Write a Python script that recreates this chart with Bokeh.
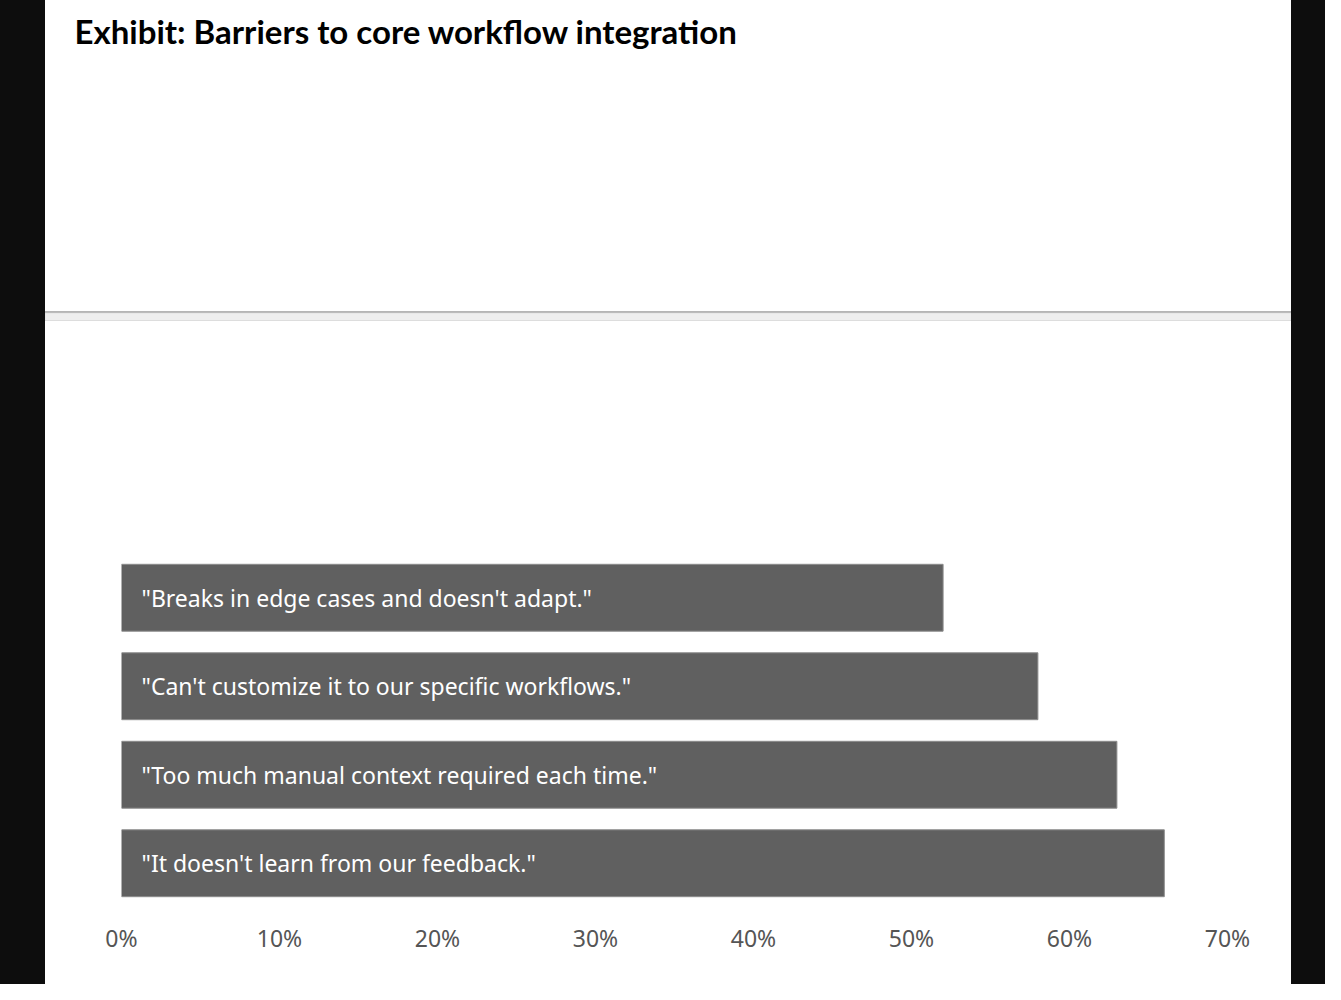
from bokeh.plotting import figure
from bokeh.models import Div, Range1d, FactorRange, NumeralTickFormatter, FixedTicker, ColumnDataSource
from bokeh.layouts import row, column
from bokeh.core.properties import value
from bokeh.embed import file_html
from bokeh.resources import INLINE

title_text = "Exhibit: Barriers to core workflow integration"
labels = [
    "\"Breaks in edge cases and doesn't adapt.\"",
    "\"Can't customize it to our specific workflows.\"",
    "\"Too much manual context required each time.\"",
    "\"It doesn't learn from our feedback.\"",
]
values = [0.52, 0.58, 0.63, 0.66]
ticks = [0.0, 0.1, 0.2, 0.3, 0.4, 0.5, 0.6, 0.7]

BLACK = "#0d0d0d"
W_LEFT, W_MID, W_RIGHT = 45, 1246, 34
H_TOP, H_SEP, H_BOT = 311, 10, 663

left_bar = Div(text="", width=W_LEFT, height=984, margin=0, styles={"background-color": BLACK})
right_bar = Div(text="", width=W_RIGHT, height=984, margin=0, styles={"background-color": BLACK})

top = figure(width=W_MID, height=H_TOP, output_backend="svg", toolbar_location=None,
             x_range=Range1d(0, 1), y_range=Range1d(0, 1),
             x_axis_location=None, y_axis_location=None,
             min_border_left=0, min_border_right=0, min_border_top=50, min_border_bottom=0)
top.grid.visible = False
top.outline_line_color = None
top.title.text = title_text
top.title.text_font = "Lato"
top.title.text_font_style = "bold"
top.title.text_font_size = "33px"
top.title.text_color = "#000000"
top.title.offset = -47
top.title.standoff = 0

sep = Div(text="", width=W_MID, height=H_SEP, margin=0,
          styles={"background-color": "#eeeeee", "box-shadow": "inset 0 2px 1px #b5b5b5, inset 0 -1px 0 #dddddd"})

src = ColumnDataSource(dict(label=labels, value=values, zero=[0] * len(values)))

p = figure(width=W_MID, height=H_BOT, output_backend="svg", toolbar_location=None,
           x_range=Range1d(0, 0.7), y_range=FactorRange(factors=labels[::-1], range_padding=0),
           min_border_left=76, min_border_right=64, min_border_top=232, min_border_bottom=77)
p.hbar(y="label", left=0, right="value", height=0.756, source=src,
       fill_color="#606060", line_color="#8c8c8c", line_width=1)
p.text(x="zero", y="label", text="label", source=src, x_offset=20,
       text_color="white", text_font=value("Noto Sans"), text_font_size="23px",
       text_baseline="middle", text_align="left")
p.yaxis.visible = False
p.grid.visible = False
p.outline_line_color = None
p.xaxis.ticker = FixedTicker(ticks=ticks)
p.xaxis.formatter = NumeralTickFormatter(format="0%")
p.xaxis.axis_line_color = None
p.xaxis.major_tick_line_color = None
p.xaxis.minor_tick_line_color = None
p.xaxis.major_label_text_font = "Noto Sans"
p.xaxis.major_label_text_font_size = "23px"
p.xaxis.major_label_text_color = "#555555"
p.xaxis.major_label_standoff = 8

layout = row(left_bar, column(top, sep, p, spacing=0), right_bar, spacing=0)

open("out.html", "w").write(file_html(layout, INLINE))
